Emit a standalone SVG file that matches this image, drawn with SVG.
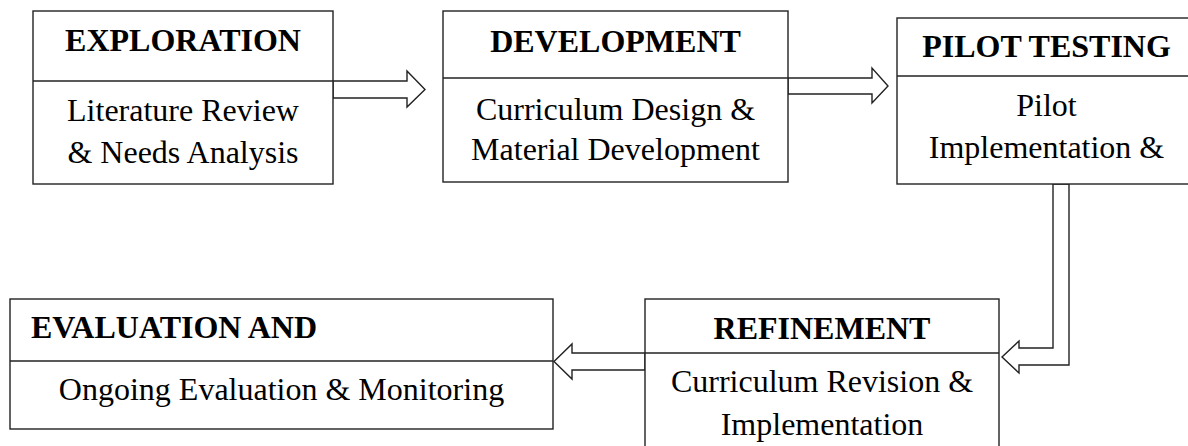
<svg xmlns="http://www.w3.org/2000/svg" width="1188" height="446" viewBox="0 0 1188 446">
  <style>
    .box { fill: #fff; stroke: #222; stroke-width: 1.4; }
    .rule { stroke: #222; stroke-width: 1.4; }
    .title { font-family: "Liberation Serif", "Times New Roman", serif; font-weight: bold; font-size: 32px; fill: #000; }
    .body { font-family: "Liberation Serif", "Times New Roman", serif; font-size: 32px; fill: #000; }
    .mid { text-anchor: middle; }
    .arrow { fill: #fff; stroke: #222; stroke-width: 1.4; stroke-linejoin: miter; }
  </style>
  <rect width="1188" height="446" fill="#fff"/>

  <!-- block arrows between stages -->
  <g id="connectors">
    <polygon class="arrow" points="333,81 407,81 407,71 425,89.5 407,107 407,98 333,98"/>
    <polygon class="arrow" points="788,78 872,78 872,68 888,86 872,103 872,94 788,94"/>
    <polygon class="arrow" points="1053,184 1053,348 1019,348 1019,341 1002,357 1019,373 1019,365 1069,365 1069,184"/>
    <polygon class="arrow" points="645,353 572,353 572,344 554,361.5 572,379 572,370 645,370"/>
  </g>

  <g id="exploration">
    <rect class="box" x="33" y="11" width="300" height="173"/>
    <line class="rule" x1="33" y1="81" x2="333" y2="81"/>
    <text class="title mid" x="183" y="51">EXPLORATION</text>
    <text class="body mid" x="183" y="121">Literature Review</text>
    <text class="body mid" x="183" y="163">&amp; Needs Analysis</text>
  </g>

  <g id="development">
    <rect class="box" x="443" y="11" width="345" height="171"/>
    <line class="rule" x1="443" y1="78" x2="788" y2="78"/>
    <text class="title mid" x="615.5" y="52">DEVELOPMENT</text>
    <text class="body mid" x="615.5" y="120">Curriculum Design &amp;</text>
    <text class="body mid" x="615.5" y="160">Material Development</text>
  </g>

  <g id="pilot-testing">
    <rect class="box" x="897" y="18" width="310" height="166"/>
    <line class="rule" x1="897" y1="76" x2="1207" y2="76"/>
    <text class="title mid" x="1046.5" y="57">PILOT TESTING</text>
    <text class="body mid" x="1046.5" y="116">Pilot</text>
    <text class="body mid" x="1046.5" y="158">Implementation &amp;</text>
  </g>

  <g id="refinement">
    <rect class="box" x="645" y="299" width="354" height="160"/>
    <line class="rule" x1="645" y1="353" x2="999" y2="353"/>
    <text class="title mid" x="822" y="339">REFINEMENT</text>
    <text class="body mid" x="822" y="392">Curriculum Revision &amp;</text>
    <text class="body mid" x="822" y="435">Implementation</text>
  </g>

  <g id="evaluation">
    <rect class="box" x="10" y="299" width="543" height="130"/>
    <line class="rule" x1="10" y1="361" x2="553" y2="361"/>
    <text class="title" x="31" y="338">EVALUATION AND</text>
    <text class="body mid" x="281.5" y="400">Ongoing Evaluation &amp; Monitoring</text>
  </g>
</svg>
